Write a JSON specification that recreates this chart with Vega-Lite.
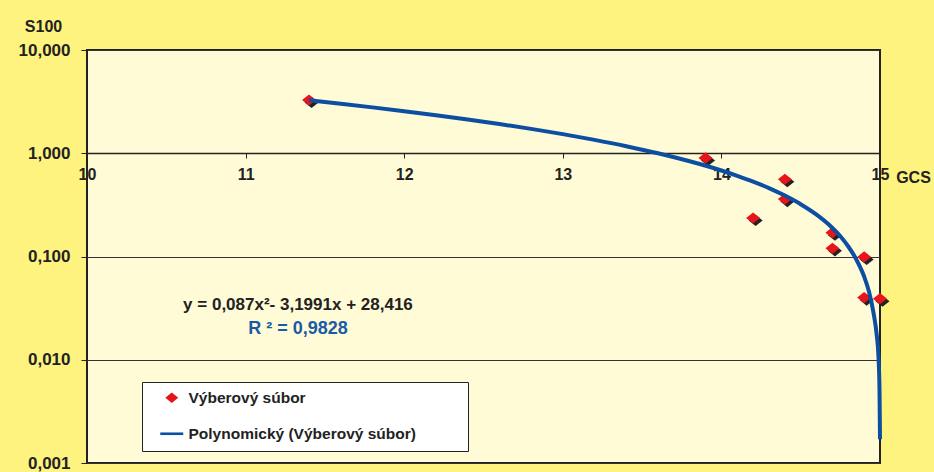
{
  "$schema": "https://vega.github.io/schema/vega-lite/v6.json",
  "width": 793,
  "height": 413,
  "autosize": {"type": "none"},
  "padding": {"left": 87, "top": 50, "right": 54, "bottom": 9},
  "background": "#FFF380",
  "view": {"fill": "#FFFBD6", "stroke": "#222222", "strokeWidth": 2},
  "config": {
    "font": "Liberation Sans",
    "axis": {"labelFont": "Liberation Sans", "labelFontWeight": "bold", "labelFontSize": 16, "labelColor": "#222222", "titleFont": "Liberation Sans", "titleFontWeight": "bold", "titleFontSize": 16, "titleColor": "#222222", "tickColor": "#222222"},
    "legend": {"orient": "none", "legendX": 55, "legendY": 332, "fillColor": "#FFFFFF", "strokeColor": "#222222", "padding": 8, "rowPadding": 19, "symbolSize": 169, "symbolStrokeWidth": 0, "symbolOffset": 14, "labelOffset": 9, "labelFont": "Liberation Sans", "labelFontWeight": "bold", "labelFontSize": 15.5, "labelColor": "#222222", "labelLimit": 500, "titleOrient": "right", "titlePadding": 40, "titleColor": "transparent", "titleFontSize": 12}
  },
  "datasets": {
    "points": [
      {"gcs": 11.4, "s100": 3.28, "series": "Výberový súbor"},
      {"gcs": 13.9, "s100": 0.9, "series": "Výberový súbor"},
      {"gcs": 14.4, "s100": 0.56, "series": "Výberový súbor"},
      {"gcs": 14.4, "s100": 0.36, "series": "Výberový súbor"},
      {"gcs": 14.2, "s100": 0.236, "series": "Výberový súbor"},
      {"gcs": 14.7, "s100": 0.17, "series": "Výberový súbor"},
      {"gcs": 14.7, "s100": 0.12, "series": "Výberový súbor"},
      {"gcs": 14.9, "s100": 0.099, "series": "Výberový súbor"},
      {"gcs": 14.9, "s100": 0.04, "series": "Výberový súbor"},
      {"gcs": 15.0, "s100": 0.039, "series": "Výberový súbor"}
    ],
    "trend": [
      {"gcs": 11.4, "s100": 3.253}, {"gcs": 11.6, "s100": 3.013}, {"gcs": 11.8, "s100": 2.781},
      {"gcs": 12.0, "s100": 2.555}, {"gcs": 12.2, "s100": 2.336}, {"gcs": 12.4, "s100": 2.124},
      {"gcs": 12.6, "s100": 1.919}, {"gcs": 12.8, "s100": 1.722}, {"gcs": 13.0, "s100": 1.531},
      {"gcs": 13.2, "s100": 1.347}, {"gcs": 13.4, "s100": 1.17}, {"gcs": 13.6, "s100": 1.0},
      {"gcs": 13.8, "s100": 0.836}, {"gcs": 14.0, "s100": 0.681}, {"gcs": 14.1, "s100": 0.605},
      {"gcs": 14.2, "s100": 0.532}, {"gcs": 14.3, "s100": 0.46}, {"gcs": 14.4, "s100": 0.389},
      {"gcs": 14.5, "s100": 0.321}, {"gcs": 14.6, "s100": 0.254}, {"gcs": 14.7, "s100": 0.189},
      {"gcs": 14.75, "s100": 0.157}, {"gcs": 14.8, "s100": 0.125}, {"gcs": 14.85, "s100": 0.094},
      {"gcs": 14.9, "s100": 0.064}, {"gcs": 14.93, "s100": 0.046}, {"gcs": 14.96, "s100": 0.028},
      {"gcs": 14.98, "s100": 0.017}, {"gcs": 14.99, "s100": 0.011}, {"gcs": 14.997, "s100": 0.005},
      {"gcs": 15.0, "s100": 0.0017}
    ],
    "equation": [{"gcs": 11.33, "s100": 0.0339, "label": "y = 0,087x²- 3,1991x + 28,416"}],
    "rsq": [{"gcs": 11.33, "s100": 0.0199, "label": "R ² = 0,9828"}]
  },
  "layer": [
    {
      "data": {"name": "points"},
      "mark": {"type": "point", "filled": true, "opacity": 1, "size": 196, "color": "#222222", "shape": "M 0.36 -0.44 L 1.36 0.36 L 0.36 1.16 L -0.64 0.36 Z"},
      "encoding": {
        "x": {"field": "gcs", "type": "quantitative", "scale": {"domain": [10, 15], "nice": false},
          "axis": {"orient": "bottom", "offset": -310, "values": [10, 11, 12, 13, 14, 15], "format": "d", "labelFlush": false, "grid": false, "domain": true, "domainColor": "#222222", "domainWidth": 1.5, "tickSize": 5, "labelPadding": 8, "title": "GCS", "titleX": 826, "titleY": 24, "titleAlign": "center", "titleBaseline": "middle"}},
        "y": {"field": "s100", "type": "quantitative", "scale": {"type": "log", "domain": [0.001, 10], "nice": false},
          "axis": {"values": [0.001, 0.01, 0.1, 1, 10], "grid": true, "gridColor": "#333333", "gridWidth": 1, "domain": false, "tickSize": 6, "labelPadding": 11, "labelFontSize": 17, "labelExpr": "replace(format(datum.value, '.3f'), '.', ',')", "title": "S100", "titleAngle": 0, "titleX": -44, "titleY": -24, "titleAlign": "center", "titleBaseline": "middle"}}
      }
    },
    {
      "data": {"name": "points"},
      "mark": {"type": "point", "filled": true, "opacity": 1, "size": 196, "strokeWidth": 0},
      "encoding": {
        "x": {"field": "gcs", "type": "quantitative"},
        "y": {"field": "s100", "type": "quantitative"},
        "color": {"field": "series", "type": "nominal",
          "scale": {"domain": ["Výberový súbor", "Polynomický (Výberový súbor)"], "range": ["#E8141C", "#0B4EA2"]},
          "legend": {"title": "I"}},
        "shape": {"field": "series", "type": "nominal",
          "scale": {"domain": ["Výberový súbor", "Polynomický (Výberový súbor)"], "range": ["M 0 -0.8 L 1 0 L 0 0.8 L -1 0 Z", "M -1.77 -0.2 L 1.77 -0.2 L 1.77 0.2 L -1.77 0.2 Z"]},
          "legend": {"title": "I"}}
      }
    },
    {
      "data": {"name": "trend"},
      "mark": {"type": "line", "color": "#0B4EA2", "strokeWidth": 4, "interpolate": "monotone"},
      "encoding": {
        "x": {"field": "gcs", "type": "quantitative"},
        "y": {"field": "s100", "type": "quantitative"}
      }
    },
    {
      "data": {"name": "equation"},
      "mark": {"type": "text", "font": "Liberation Sans", "fontWeight": "bold", "fontSize": 17, "color": "#222222", "align": "center", "baseline": "middle"},
      "encoding": {
        "x": {"field": "gcs", "type": "quantitative"},
        "y": {"field": "s100", "type": "quantitative"},
        "text": {"field": "label"}
      }
    },
    {
      "data": {"name": "rsq"},
      "mark": {"type": "text", "font": "Liberation Sans", "fontWeight": "bold", "fontSize": 18, "color": "#1A5BA8", "align": "center", "baseline": "middle"},
      "encoding": {
        "x": {"field": "gcs", "type": "quantitative"},
        "y": {"field": "s100", "type": "quantitative"},
        "text": {"field": "label"}
      }
    }
  ]
}
